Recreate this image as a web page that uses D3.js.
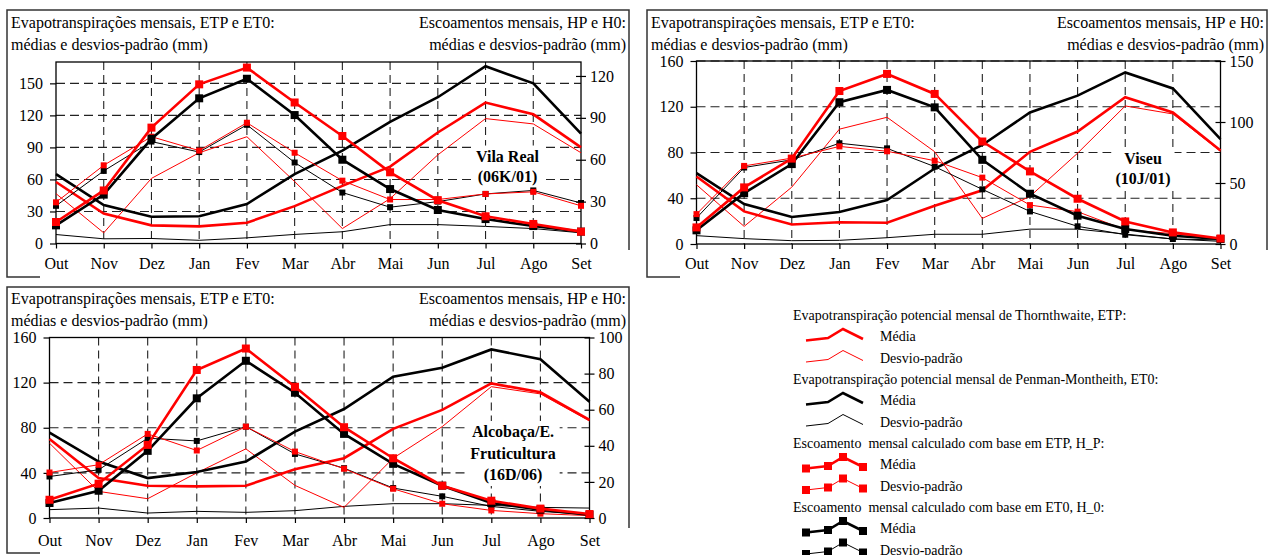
<!DOCTYPE html>
<html>
<head>
  <meta charset="utf-8">
<style type="text/css">
  body { margin: 0; background: #fff; }
  svg text { font-family: "Liberation Serif", "DejaVu Serif", serif; fill: #000; }
</style>
</head>
<script src="https://cdn.jsdelivr.net/npm/d3@7"></script>
<body>
<script>
  var months = ["Out","Nov","Dez","Jan","Fev","Mar","Abr","Mai","Jun","Jul","Ago","Set"];

  // Vila Real (06K/01)
  var vrEtpMean = [57.6, 28, 17, 16, 19.5, 35, 54, 72, 104, 132, 121, 90];
  var vrEtpSd   = [46.7, 10, 61, 85, 100, 58, 14, 42, 83, 117, 112, 85];
  var vrEt0Mean = [65, 36, 25, 25.5, 37, 65, 87, 114, 137, 166, 150, 103];
  var vrEt0Sd   = [8.4, 4.4, 4.7, 3, 5.3, 8.5, 11, 17.7, 17.7, 16, 14, 10];
  var vrHpMean  = [15.4, 38, 83, 114, 126, 101, 77, 51, 31, 19.5, 14, 8.5];
  var vrH0Mean  = [13, 35, 75, 104, 118, 92, 60, 39, 24, 17.5, 12.5, 8.5];
  var vrHpSd    = [29.5, 56, 76.5, 66.5, 86.5, 65, 45, 31.5, 31.5, 35.5, 37, 27];
  var vrH0Sd    = [27, 52, 73, 65.5, 85, 58, 36.5, 26, 30, 35.5, 38, 29];
  var vrLeftTicks  = [0, 30, 60, 90, 120, 150];
  var vrRightTicks = [0, 30, 60, 90, 120];

  // Viseu (10J/01)
  var vsEtpMean = [59, 28.5, 17, 19, 18.6, 33.5, 47, 80.6, 98.3, 128.3, 115, 81.7];
  var vsEtpSd   = [51.8, 15.4, 49.7, 100.4, 110.8, 80.7, 22.4, 41.6, 79.4, 120.7, 113.7, 81];
  var vsEt0Mean = [62, 35, 23.6, 28, 38.5, 66, 86.6, 115, 129.7, 150, 136, 91.6];
  var vsEt0Sd   = [7.3, 4.7, 2.9, 3.2, 5.5, 8.5, 8.5, 13, 13, 8.7, 4.4, 2.3];
  var vsHpMean  = [13.6, 46.4, 70, 125.4, 139.4, 123, 84, 59.5, 37.1, 18.5, 9.5, 4.5];
  var vsH0Mean  = [11.2, 41.7, 65.5, 116.2, 126.3, 112, 69, 41.2, 23.2, 12.3, 6.8, 4.1];
  var vsHpSd    = [24.5, 64, 70.4, 80, 76, 68.3, 54.4, 31.9, 26.5, 11.7, 8.5, 4.6];
  var vsH0Sd    = [21.3, 62.7, 69, 82.6, 78.4, 63.4, 44.8, 26.7, 14.5, 7.6, 4.1, 3.3];
  var vsLeftTicks  = [0, 40, 80, 120, 160];
  var vsRightTicks = [0, 50, 100, 150];

  // Alcobaça/E. Fruticultura (16D/06)
  var alEtpMean = [70, 35.4, 28.6, 28, 28.6, 43.3, 53, 79, 95.8, 119.3, 111.4, 87];
  var alEtpSd   = [66.3, 23.6, 17.1, 40, 61.3, 28.9, 9.4, 53, 81, 116.4, 110, 86];
  var alEt0Mean = [75.7, 50, 35.4, 40.7, 50, 76.6, 96.6, 125.2, 133.2, 149.4, 140.8, 103];
  var alEt0Sd   = [7.4, 8.8, 4.4, 5.9, 5, 6.5, 10.3, 12.7, 12.7, 11.2, 9.4, 8.8];
  var alHpMean  = [10.1, 19, 40.5, 82, 93.9, 72.7, 50.3, 33.1, 17.9, 9.6, 5.2, 2.2];
  var alH0Mean  = [8.3, 15.1, 37.2, 66.3, 87.1, 69.4, 46.6, 30, 17.9, 8.3, 4.6, 1.8];
  var alHpSd    = [25.2, 29.5, 46.6, 37.4, 50.6, 36.8, 27.3, 16.2, 7.9, 4.2, 2.4, 1.3];
  var alH0Sd    = [23, 26.7, 44.2, 42.7, 50.6, 35.5, 27.6, 16.6, 12, 6.4, 3.7, 1.8];
  var alLeftTicks  = [0, 40, 80, 120, 160];
  var alRightTicks = [0, 20, 40, 60, 80, 100];

  var leftTitle = ["Evapotranspirações mensais, ETP e ET0:", "médias e desvios-padrão (mm)"];
  var rightTitle = ["Escoamentos mensais, HP e H0:", "médias e desvios-padrão (mm)"];

  var legendGroups = [
    "Evapotranspiração potencial mensal de Thornthwaite, ETP:",
    "Evapotranspiração potencial mensal de Penman-Montheith, ET0:",
    "Escoamento  mensal calculado com base em ETP, H_P:",
    "Escoamento  mensal calculado com base em ET0, H_0:"
  ];
  var legendItems = ["Média", "Desvio-padrão"];

  var RED = "#ff0000";
  var w = 1272;
  var h = 555;

  var svg = d3.select("body")
              .append("svg")
              .attr("width", w)
              .attr("height", h);

  var panels = [
    {
      label: ["Vila Real", "(06K/01)"], labelX: 507.5, labelY: 161.5, labelDy: 20,
      frame: { x0: 7, x1: 629, y0: 10, y1: 277, gap: 40, rightEnd: 250 },
      plot: { x0: 56, x1: 581, top: 62, bottom: 243.5 },
      titleY: 28, leftMax: 170, rightMax: 130, monthPad: 9,
      leftTicks: vrLeftTicks, rightTicks: vrRightTicks,
      etpMean: vrEtpMean, etpSd: vrEtpSd, et0Mean: vrEt0Mean, et0Sd: vrEt0Sd,
      hpMean: vrHpMean, h0Mean: vrH0Mean, hpSd: vrHpSd, h0Sd: vrH0Sd
    },
    {
      label: ["Viseu", "(10J/01)"], labelX: 1143, labelY: 164, labelDy: 20,
      frame: { x0: 647, x1: 1267, y0: 10, y1: 277, gap: 680, rightEnd: 250 },
      plot: { x0: 696.5, x1: 1220.5, top: 61, bottom: 244 },
      titleY: 28, leftMax: 160, rightMax: 150, monthPad: 9,
      leftTicks: vsLeftTicks, rightTicks: vsRightTicks,
      etpMean: vsEtpMean, etpSd: vsEtpSd, et0Mean: vsEt0Mean, et0Sd: vsEt0Sd,
      hpMean: vsHpMean, h0Mean: vsH0Mean, hpSd: vsHpSd, h0Sd: vsH0Sd
    },
    {
      label: ["Alcobaça/E.", "Fruticultura", "(16D/06)"], labelX: 513, labelY: 437, labelDy: 21.5,
      frame: { x0: 7, x1: 629, y0: 287, y1: 553, gap: 40, rightEnd: 528 },
      plot: { x0: 49.5, x1: 589.5, top: 337.5, bottom: 518 },
      titleY: 304, leftMax: 160, rightMax: 100, monthPad: 12,
      leftTicks: alLeftTicks, rightTicks: alRightTicks,
      etpMean: alEtpMean, etpSd: alEtpSd, et0Mean: alEt0Mean, et0Sd: alEt0Sd,
      hpMean: alHpMean, h0Mean: alH0Mean, hpSd: alHpSd, h0Sd: alH0Sd
    }
  ];

  // drawing order: evapotranspiration (left axis) first, then runoff (right axis)
  var styles = [
    { key: "et0Sd",   color: "#000", width: 1,   marker: 0, axis: "left" },
    { key: "etpSd",   color: RED,    width: 1,   marker: 0, axis: "left" },
    { key: "et0Mean", color: "#000", width: 2.6, marker: 0, axis: "left" },
    { key: "etpMean", color: RED,    width: 2.6, marker: 0, axis: "left" },
    { key: "h0Sd",    color: "#000", width: 1,   marker: 6, axis: "right" },
    { key: "hpSd",    color: RED,    width: 1,   marker: 6, axis: "right" },
    { key: "h0Mean",  color: "#000", width: 2.6, marker: 8, axis: "right" },
    { key: "hpMean",  color: RED,    width: 2.6, marker: 8, axis: "right" }
  ];

  panels.forEach(function (p) {
    var g = svg.append("g");
    var f = p.frame;

    // panel frame, bottom is hidden behind the month labels
    g.append("path")
     .attr("d", "M" + f.gap + "," + f.y1 + "H" + f.x0 + "V" + f.y0 + "H" + f.x1 + "V" + f.rightEnd)
     .attr("fill", "none")
     .attr("stroke", "#333")
     .attr("stroke-width", 1.5);

    var x = d3.scalePoint().domain(months).range([p.plot.x0, p.plot.x1]).padding(0);
    var yL = d3.scaleLinear().domain([0, p.leftMax]).range([p.plot.bottom, p.plot.top]);
    var yR = d3.scaleLinear().domain([0, p.rightMax]).range([p.plot.bottom, p.plot.top]);

    // titles
    var tl = g.append("text").attr("font-size", 16);
    leftTitle.forEach(function (t, i) {
      tl.append("tspan").attr("x", f.x0 + 4).attr("y", p.titleY + i * 21.5).text(t);
    });
    var tr = g.append("text").attr("font-size", 16).attr("text-anchor", "end");
    rightTitle.forEach(function (t, i) {
      tr.append("tspan").attr("x", f.x1 - 3).attr("y", p.titleY + i * 21.5).text(t);
    });

    // dashed grid
    g.selectAll(".hgrid")
     .data(p.leftTicks.filter(function (d) { return d > 0; }))
     .enter()
     .append("line")
     .attr("x1", p.plot.x0).attr("x2", p.plot.x1)
     .attr("y1", function (d) { return yL(d); })
     .attr("y2", function (d) { return yL(d); })
     .attr("stroke", "#222").attr("stroke-width", 1.1)
     .attr("stroke-dasharray", "9,5");

    g.selectAll(".vgrid")
     .data(months.slice(1, -1))
     .enter()
     .append("line")
     .attr("x1", function (d) { return x(d); })
     .attr("x2", function (d) { return x(d); })
     .attr("y1", p.plot.top).attr("y2", p.plot.bottom)
     .attr("stroke", "#222").attr("stroke-width", 1.1)
     .attr("stroke-dasharray", "8,5");

    g.append("rect")
     .attr("x", p.plot.x0).attr("y", p.plot.top)
     .attr("width", p.plot.x1 - p.plot.x0)
     .attr("height", p.plot.bottom - p.plot.top)
     .attr("fill", "none")
     .attr("stroke", "#000")
     .attr("stroke-width", 1.3);

    // axes
    var axL = g.append("g")
               .attr("transform", "translate(" + p.plot.x0 + ",0)")
               .call(d3.axisLeft(yL).tickValues(p.leftTicks).tickSize(6).tickPadding(7));
    var axR = g.append("g")
               .attr("transform", "translate(" + p.plot.x1 + ",0)")
               .call(d3.axisRight(yR).tickValues(p.rightTicks).tickSize(5).tickPadding(4));
    axR.selectAll(".tick line").attr("x1", -5);
    var axB = g.append("g")
               .attr("transform", "translate(0," + p.plot.bottom + ")")
               .call(d3.axisBottom(x).tickSize(5).tickPadding(p.monthPad));

    [axL, axR, axB].forEach(function (a) {
      a.select(".domain").remove();
      a.attr("font-family", null).attr("font-size", 16);
      a.selectAll(".tick line").attr("stroke", "#000").attr("stroke-width", 1.2);
    });

    // station label on a white box
    var lg = g.append("g");
    var lt = lg.append("text")
               .attr("font-size", 16)
               .attr("font-weight", "bold")
               .attr("text-anchor", "middle");
    p.label.forEach(function (t, i) {
      lt.append("tspan").attr("x", p.labelX).attr("y", p.labelY + i * p.labelDy).text(t);
    });
    var bb = lt.node().getBBox();
    lg.insert("rect", "text")
      .attr("x", bb.x - 4).attr("y", bb.y - 2)
      .attr("width", bb.width + 8).attr("height", bb.height + 4)
      .attr("fill", "#fff");

    // series
    styles.forEach(function (s) {
      var y = s.axis === "left" ? yL : yR;
      var vals = p[s.key];
      var line = d3.line()
                   .x(function (d, i) { return x(months[i]); })
                   .y(function (d) { return y(d); });
      g.append("path")
       .datum(vals)
       .attr("d", line)
       .attr("fill", "none")
       .attr("stroke", s.color)
       .attr("stroke-width", s.width)
       .attr("stroke-linejoin", "miter");
      if (s.marker) {
        g.selectAll(null)
         .data(vals)
         .enter()
         .append("rect")
         .attr("x", function (d, i) { return x(months[i]) - s.marker / 2; })
         .attr("y", function (d) { return y(d) - s.marker / 2; })
         .attr("width", s.marker)
         .attr("height", s.marker)
         .attr("fill", s.color);
      }
    });
  });

  // legend
  var leg = svg.append("g");
  var glyphX = [806, 828, 843, 863];
  var glyphDy = [-0.5, -3, -12, -2];
  var legStyles = [
    [styles[3], styles[1]],
    [styles[2], styles[0]],
    [styles[7], styles[5]],
    [styles[6], styles[4]]
  ];

  legendGroups.forEach(function (head, gi) {
    var y0 = 320 + gi * 64;
    leg.append("text")
       .attr("x", 793).attr("y", y0)
       .attr("font-size", 14)
       .attr("xml:space", "preserve")
       .text(head);

    legendItems.forEach(function (item, ii) {
      var yb = y0 + 21 + ii * 21.5;
      var s = legStyles[gi][ii];
      var pts = glyphX.map(function (gx, k) { return [gx, yb + glyphDy[k]]; });
      leg.append("path")
         .attr("d", d3.line()(pts))
         .attr("fill", "none")
         .attr("stroke", s.color)
         .attr("stroke-width", s.width);
      if (s.marker) {
        pts.forEach(function (pt) {
          leg.append("rect")
             .attr("x", pt[0] - 4).attr("y", pt[1] - 4)
             .attr("width", 8).attr("height", 8)
             .attr("fill", s.color);
        });
      }
      leg.append("text")
         .attr("x", 880).attr("y", yb)
         .attr("font-size", 14)
         .text(item);
    });
  });
</script>
</body>
</html>
